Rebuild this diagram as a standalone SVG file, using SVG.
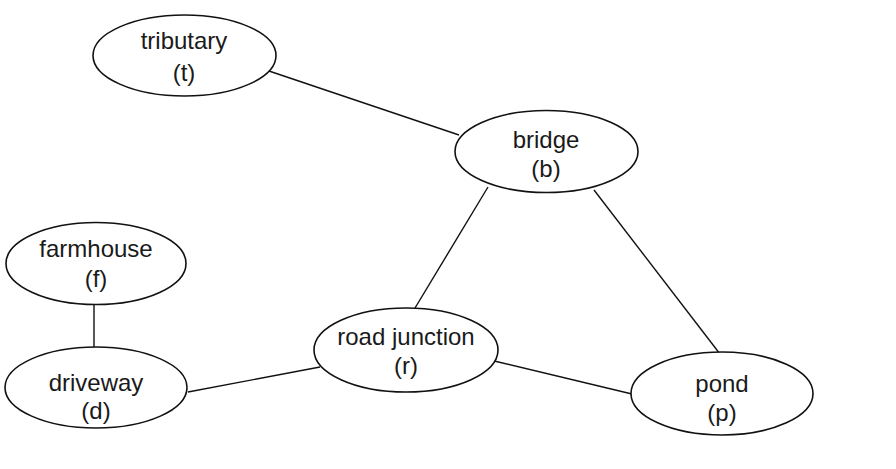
<svg xmlns="http://www.w3.org/2000/svg" width="896" height="469" viewBox="0 0 896 469">
  <style>
    .node ellipse { fill: #ffffff; stroke: #111111; stroke-width: 1.6; }
    .node text { font-family: "Liberation Sans", Arial, sans-serif; font-size: 24px; fill: #1a1a1a; text-anchor: middle; }
    #edges line { stroke: #111111; stroke-width: 1.4; }
  </style>
  <rect width="896" height="469" fill="#ffffff"/>

  <!-- connectors -->
  <g id="edges">
    <line x1="266" y1="70" x2="459" y2="135"/>
    <line x1="488" y1="187" x2="412" y2="313"/>
    <line x1="594" y1="190" x2="720" y2="354"/>
    <line x1="94" y1="305" x2="94" y2="348"/>
    <line x1="188" y1="392" x2="320" y2="367"/>
    <line x1="490" y1="360" x2="632" y2="394"/>
  </g>

  <g id="tributary" class="node">
    <ellipse cx="184.5" cy="55.5" rx="91.5" ry="40.5"/>
    <text x="184" y="49">tributary</text>
    <text x="184" y="81">(t)</text>
  </g>

  <g id="bridge" class="node">
    <ellipse cx="546.5" cy="151.5" rx="91.5" ry="41"/>
    <text x="546" y="148">bridge</text>
    <text x="546" y="177">(b)</text>
  </g>

  <g id="farmhouse" class="node">
    <ellipse cx="96" cy="263.5" rx="90" ry="41"/>
    <text x="96" y="257">farmhouse</text>
    <text x="96" y="287">(f)</text>
  </g>

  <g id="driveway" class="node">
    <ellipse cx="96" cy="387.5" rx="91" ry="40.5"/>
    <text x="96" y="391">driveway</text>
    <text x="96" y="419">(d)</text>
  </g>

  <g id="road-junction" class="node">
    <ellipse cx="406" cy="350" rx="92" ry="42"/>
    <text x="406" y="345">road junction</text>
    <text x="406" y="374">(r)</text>
  </g>

  <g id="pond" class="node">
    <ellipse cx="722" cy="393.5" rx="91" ry="41.5"/>
    <text x="722" y="392">pond</text>
    <text x="722" y="421">(p)</text>
  </g>
</svg>
